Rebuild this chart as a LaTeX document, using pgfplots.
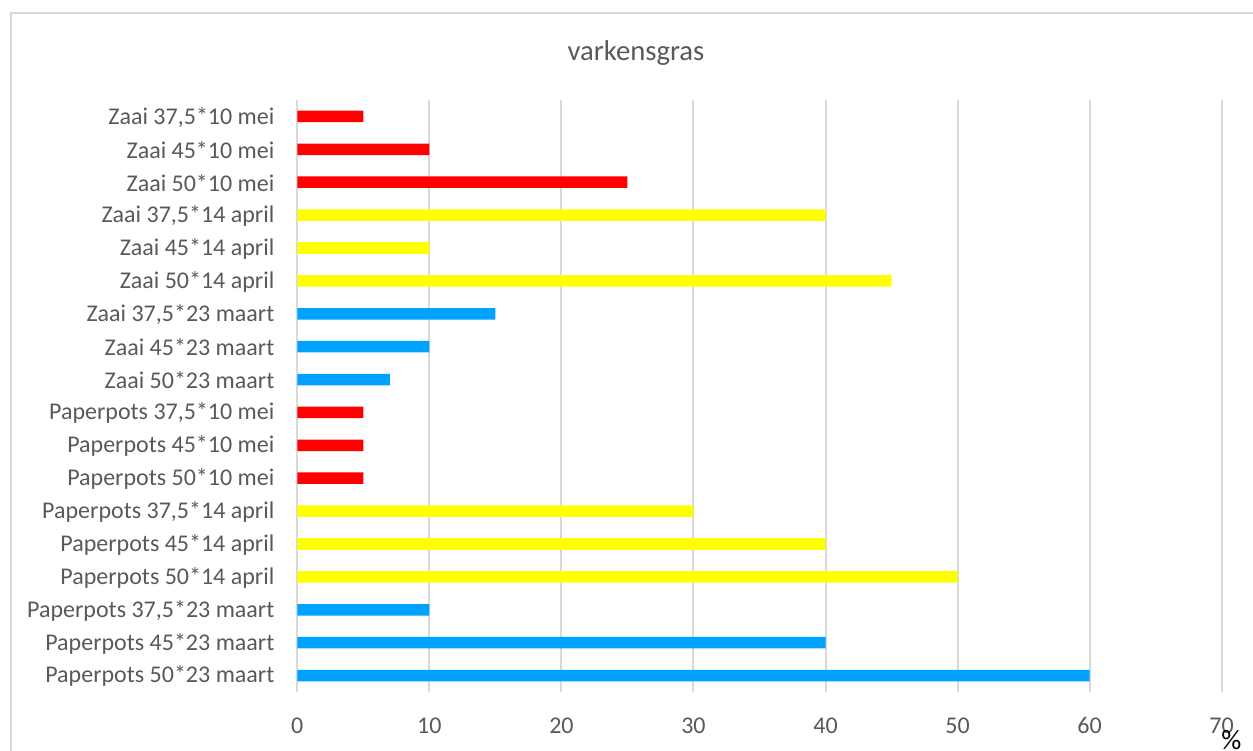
\documentclass[border=0pt]{standalone}
\usepackage{pgfplots}
\pgfplotsset{compat=1.18}
\usepackage{fontspec}
\setmainfont{Carlito}
\definecolor{gridgray}{HTML}{D9D9D9}
\definecolor{labelgray}{HTML}{595959}
\definecolor{barred}{HTML}{FF0000}
\definecolor{baryellow}{HTML}{FFFF00}
\definecolor{barblue}{HTML}{00A2FF}
\begin{document}
\begin{tikzpicture}[x=0.6pt,y=0.6pt]
\useasboundingbox (0,0) rectangle (1253,751);
\clip (0,0) rectangle (1253,751);
% chart frame
\draw[gridgray, line width=1.2pt] (11,-5) -- (11,738) -- (1260,738);
% title
\node[anchor=base, text=labelgray, font=\fontsize{17.2}{20}\selectfont, inner sep=0pt] at (636,690) {varkensgras};
\begin{axis}[
  at={(178.4pt,35.4pt)}, anchor=south west,
  scale only axis, width=554.6pt, height=355.2pt,
  xmin=0, xmax=70, ymin=-0.5, ymax=17.5,
  xtick={0,10,...,70},
  ytick={0,...,17},
  yticklabels={{Paperpots 50*23 maart},{Paperpots 45*23 maart},{Paperpots 37,5*23 maart},
    {Paperpots 50*14 april},{Paperpots 45*14 april},{Paperpots 37,5*14 april},
    {Paperpots 50*10 mei},{Paperpots 45*10 mei},{Paperpots 37,5*10 mei},
    {Zaai 50*23 maart},{Zaai 45*23 maart},{Zaai 37,5*23 maart},
    {Zaai 50*14 april},{Zaai 45*14 april},{Zaai 37,5*14 april},
    {Zaai 50*10 mei},{Zaai 45*10 mei},{Zaai 37,5*10 mei}},
  axis line style={draw=none},
  major tick length=0pt,
  tick style={draw=none},
  xmajorgrids, ymajorgrids=false,
  major grid style={gridgray, line width=1.2pt},
  /pgf/number format/assume math mode=true,
  ticklabel style={font=\fontsize{14.4}{17}\selectfont, text=labelgray, inner sep=0pt},
  xticklabel style={anchor=north, yshift=-15.2pt},
  yticklabel style={anchor=east, xshift=-13.6pt, yshift=-0.5pt},
  xbar, bar width=0.35, bar shift=0pt,
]
% 10 mei
\addplot[draw=none, fill=barred] coordinates {
  (5,17) (10,16) (25,15) (5,8) (5,7) (5,6)};
% 14 april
\addplot[draw=none, fill=baryellow] coordinates {
  (40,14) (10,13) (45,12) (30,5) (40,4) (50,3)};
% 23 maart
\addplot[draw=none, fill=barblue] coordinates {
  (15,11) (10,10) (7,9) (10,2) (40,1) (60,0)};
\end{axis}
% unit
\node[anchor=north west, inner sep=0pt, font=\fontsize{16.8}{20}\selectfont] at (1221,20.5) {\%};
\end{tikzpicture}
\end{document}
